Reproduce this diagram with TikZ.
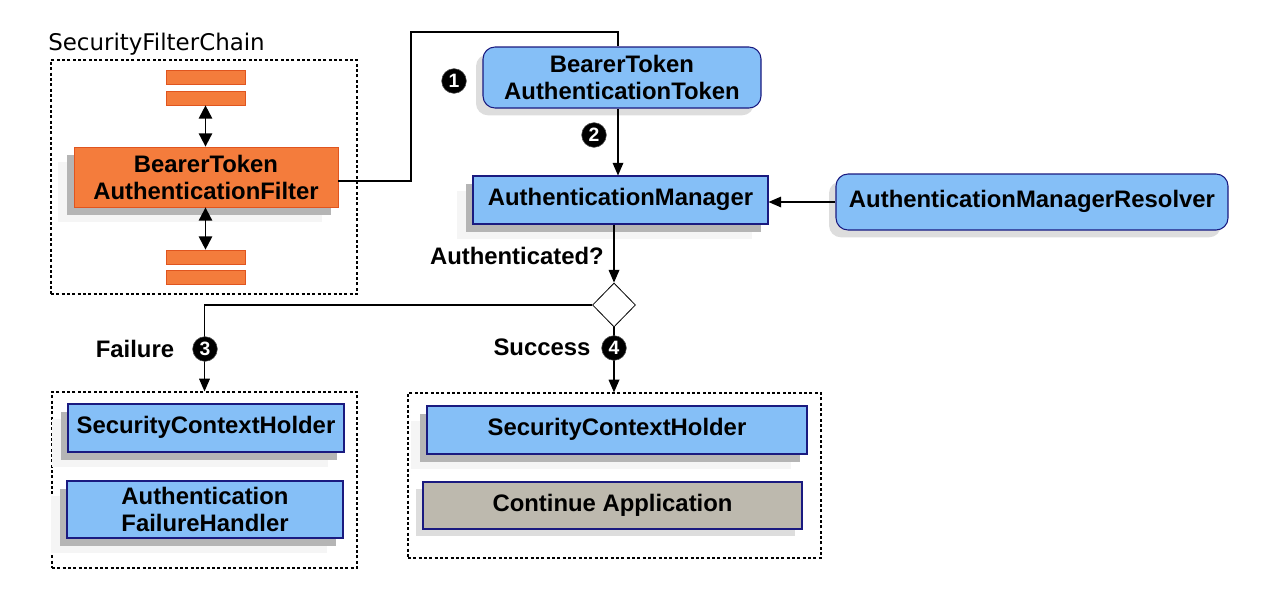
\documentclass[tikz,border=0pt]{standalone}
\usepackage{fontspec}
\setmainfont{Liberation Sans}
\newfontfamily\dvfont{DejaVu Sans}
\usetikzlibrary{shapes.geometric,shadows,arrows.meta,calc}
\definecolor{blu}{HTML}{85BFF7}
\definecolor{navy}{HTML}{1A1A80}
\definecolor{org}{HTML}{F47C3C}
\definecolor{orgd}{HTML}{E0551F}
\definecolor{gry}{HTML}{BDB9AE}
\definecolor{shd}{HTML}{B5B5B5}
\definecolor{shl}{HTML}{DDDDDD}
\definecolor{shf}{HTML}{F5F5F5}
\tikzset{
  txt/.style={font=\fontsize{17.9}{20.3}\selectfont\bfseries, align=center, inner sep=0pt},
  darkshadow/.style={general shadow={shadow xshift=-12pt, shadow yshift=-11.5pt, fill=shf},
                     general shadow={shadow xshift=-5.5pt, shadow yshift=-6pt, fill=shd}},
  lightshadow/.style={general shadow={shadow xshift=-5.25pt, shadow yshift=-5.5pt, fill=shl}},
  bluebox/.style={txt, draw=navy, fill=blu, line width=0.8pt, darkshadow},
  roundbox/.style={txt, draw=navy, fill=blu, line width=0.8pt, rounded corners=9pt, lightshadow},
  graybox/.style={txt, draw=navy, fill=gry, line width=0.8pt, lightshadow},
  orgbox/.style={txt, draw=orgd, fill=org, line width=0.6pt, darkshadow},
  bar/.style={draw=orgd, fill=org, line width=0.5pt, inner sep=0pt, minimum width=59.25pt, minimum height=10.5pt},
  group/.style={draw=black, dashed, dash pattern=on 2.2pt off 1.8pt, line width=0.9pt, inner sep=0pt},
  badge/.style={circle, fill=black, draw=black!70, line width=0.4pt, text=white, inner sep=0pt, minimum size=18.5pt, font=\fontsize{14.5}{14.5}\selectfont\bfseries},
  conn/.style={line width=0.9pt, draw=black},
  arr/.style={conn, -{Triangle[length=9.5pt, width=8pt]}},
  dbl/.style={line width=1.4pt, {Triangle[length=10pt, width=10pt]}-{Triangle[length=10pt, width=10pt]}},
  lbl/.style={font=\fontsize{17.9}{20.3}\selectfont\bfseries, inner sep=0pt},
}
\begin{document}
\begin{tikzpicture}[x=0.75pt, y=-0.75pt]
\useasboundingbox (0,0) rectangle (1276,600);
% filter chain
\node[group, minimum width=229.5pt, minimum height=175.5pt] (chain) at (204,177) {};
\node[anchor=west, inner sep=0pt, font=\fontsize{17.2}{20}\selectfont\dvfont] (chainlbl) at (48,44) {SecurityFilterChain};
\node[bar] (b1) at (205.5,77.5) {};
\node[bar] (b2) at (205.5,98) {};
\node[orgbox, minimum width=198pt, minimum height=45pt] (filter) at (206,177) {BearerToken\\AuthenticationFilter};
\node[bar] (b3) at (205.5,257) {};
\node[bar] (b4) at (205.5,277) {};
\draw[dbl] (b2.south) -- (b2.south |- filter.north);
\draw[dbl] (filter.south -| b3.north) -- (b3.north);
% token
\node[roundbox, minimum width=208.5pt, minimum height=45.75pt] (token) at (622,77.5) {BearerToken\\AuthenticationToken};
\node[bluebox, minimum width=221.25pt, minimum height=36pt, text depth=4pt] (mgr) at (620.5,200) {AuthenticationManager};
\node[roundbox, minimum width=294pt, minimum height=42pt, text depth=4pt] (res) at (1032,202) {AuthenticationManagerResolver};
\coordinate (up) at (411,32);
\coordinate (tin) at ($(token.north)+(-4,0)$);
\coordinate (tout) at ($(token.south)+(-4,0)$);
\draw[conn] ($(filter.east)+(0,4)$) -| (up) -| (tin);
\draw[arr] (tout) -- (tout |- mgr.north);
\draw[arr] (res.west) -- (res.west -| mgr.east);
\node[badge] (n1) at (454,81) {1};
\node[badge] (n2) at (594,135) {2};
% decision
\node[diamond, draw=black, line width=0.6pt, fill=white, inner sep=0pt, minimum width=32.25pt, minimum height=33pt] (dia) at (614,305) {};
\draw[arr] (dia.north |- mgr.south) -- (dia.north);
\node[lbl, anchor=east] (authq) at (604,256) {Authenticated?};
% failure
\node[group, minimum width=228.75pt, minimum height=132pt] (fail) at (204.5,480) {};
\node[bluebox, minimum width=207pt, minimum height=36pt, text depth=4pt] (sch1) at (206,428) {SecurityContextHolder};
\node[bluebox, minimum width=207pt, minimum height=42.75pt] (afh) at (205,509.5) {Authentication\\FailureHandler};
\draw[arr] (dia.west) -| (fail.north);
\node[lbl] (faill) at (135,349) {Failure};
\node[badge] (n3) at (205,349) {3};
% success
\node[group, minimum width=309.75pt, minimum height=123.75pt] (succ) at (614.5,475.5) {};
\node[bluebox, minimum width=285pt, minimum height=36pt, text depth=4pt] (sch2) at (617,430) {SecurityContextHolder};
\node[graybox, minimum width=284.25pt, minimum height=35.25pt, text depth=4pt] (cont) at (612.5,505.5) {Continue Application};
\draw[arr] (dia.south) -- (dia.south |- succ.north);
\node[lbl] (succl) at (542,347) {Success};
\node[badge] (n4) at (614,348) {4};
\end{tikzpicture}
\end{document}
